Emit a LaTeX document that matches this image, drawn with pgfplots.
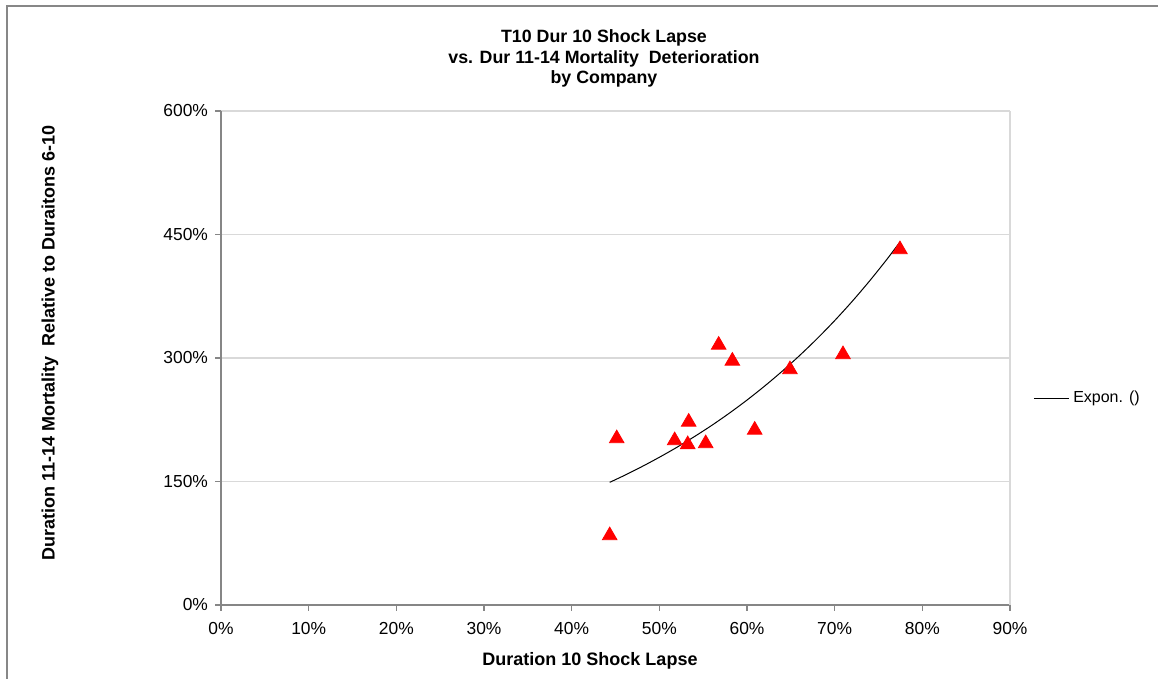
\documentclass[border=0pt]{standalone}
\usepackage{pgfplots}
\pgfplotsset{compat=1.18}
\usepackage{fontspec}
\setmainfont{Liberation Sans}
\definecolor{frame}{HTML}{878787}
\definecolor{axgray}{HTML}{868686}
\definecolor{gridgray}{HTML}{D9D9D9}
\begin{document}
\begin{tikzpicture}[x=1pt,y=1pt]
\useasboundingbox (0pt,0pt) rectangle (579pt,339.5pt);
\draw[frame, line width=1pt] (3.5pt,0pt) -- (3.5pt,336.5pt) -- (579pt,336.5pt);
\node[align=center, font=\fontsize{8.9}{10.25}\selectfont\bfseries, anchor=north] at (302pt,328pt)
  {T10 Dur 10 Shock Lapse\\vs. Dur 11-14 Mortality\ \ Deterioration\\by Company};
\node[font=\fontsize{9}{11}\selectfont\bfseries] at (295pt,9pt) {Duration 10 Shock Lapse};
\node[font=\fontsize{9}{11}\selectfont\bfseries, rotate=90] at (25pt,168pt)
  {Duration 11-14 Mortality\ \ Relative to Duraitons 6-10};
\begin{axis}[
  at={(110.5pt,37pt)}, anchor=south west,
  scale only axis, width=394.5pt, height=247pt,
  xmin=0, xmax=90, ymin=0, ymax=600,
  xtick={0,10,...,90}, ytick={0,150,300,450,600},
  xticklabel={\pgfmathprintnumber{\tick}\%},
  yticklabel={\pgfmathprintnumber{\tick}\%},
  /pgf/number format/assume math mode=true,
  tick label style={font=\fontsize{8.7}{10}\selectfont},
  xticklabel style={yshift=-2pt},
  axis lines*=left,
  axis line style={axgray, line width=0.6pt},
  tick style={axgray, line width=0.6pt},
  tick align=outside, major tick length=3pt,
  ymajorgrids, grid style={gridgray, line width=0.6pt},
  legend style={at={(1.029,0.419)}, anchor=west, draw=none, fill=none,
    inner sep=0pt, font=\fontsize{8}{10}\selectfont,
    legend cell align=left},
  legend image code/.code={\draw[black, line width=0.5pt] (0pt,0pt) -- (17.5pt,0pt);},
  clip=false,
]
\addplot[only marks, mark=triangle*, mark size=4.2pt, color=red, fill=red, forget plot] coordinates {
  (44.34,84.4) (45.14,202.2) (51.75,199.8) (53.35,222.3) (53.24,195.0)
  (55.29,196.2) (56.77,315.8) (58.33,296.4) (60.88,212.6) (64.90,286.0)
  (70.95,304.3) (77.45,431.8)
};
\addplot[black, line width=0.5pt, smooth, no markers] coordinates {
  (44.34,149.0) (46,157.3) (48,168.0) (50,179.4) (52,191.5) (54,204.5)
  (56,218.3) (58,233.1) (60,248.9) (62,265.8) (64,283.8) (66,303.0)
  (68,323.5) (70,345.4) (72,368.8) (74,393.8) (76,420.4) (77.45,440.9)
};
\addlegendentry{Expon. ()}
\draw[gridgray, line width=0.6pt] (rel axis cs:1,0) -- (rel axis cs:1,1);
\end{axis}
\end{tikzpicture}
\end{document}
